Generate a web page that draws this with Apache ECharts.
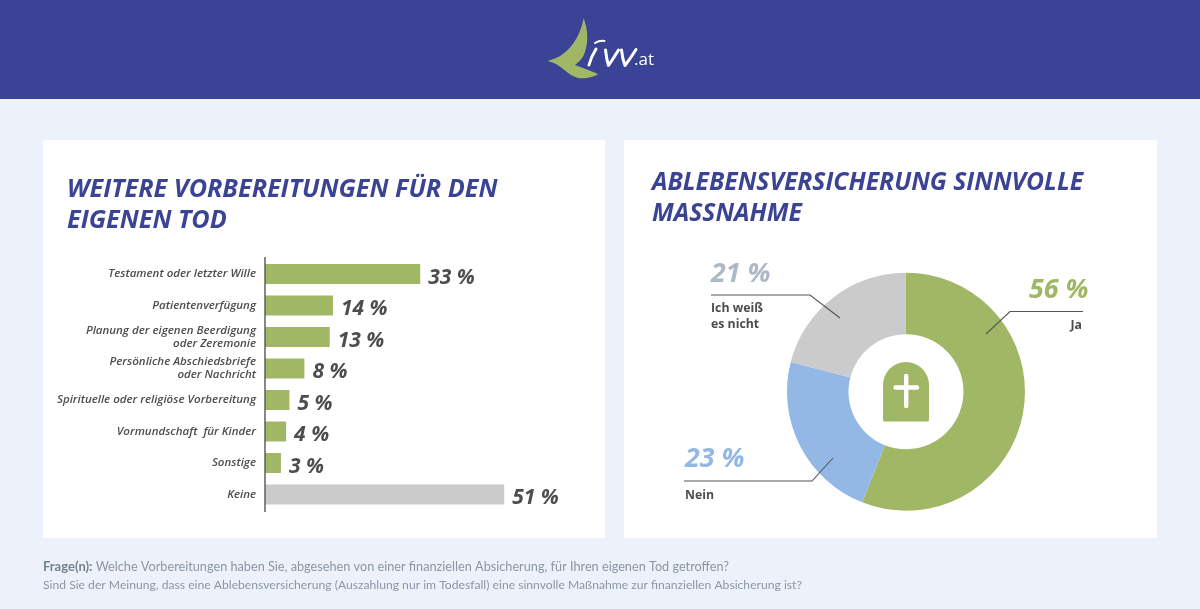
<!DOCTYPE html>
<html><head><meta charset="utf-8">
<style>html,body{margin:0;padding:0;background:#edf2fa}#c{width:1200px;height:609px}</style>
<script src="https://cdn.jsdelivr.net/npm/echarts@6/dist/echarts.min.js"></script></head>
<body><div id="c"></div>
<script>
const barCategories = ['Testament oder letzter Wille','Patientenverfügung','Planung der eigenen Beerdigung\noder Zeremonie','Persönliche Abschiedsbriefe\noder Nachricht','Spirituelle oder religiöse Vorbereitung','Vormundschaft  für Kinder','Sonstige','Keine'];
const barValues = [33.1,14.5,13.8,8.4,5.2,4.5,3.4,51];
const barLabels = ['33 %','14 %','13 %','8 %','5 %','4 %','3 %','51 %'];
const pieNames = ['Ja','Nein','Ich weiß\nes nicht'];
const pieValues = [56,23,21];
const pieColors = ['#a0b866','#93b8e5','#cbcbcb'];
const pieLabelColors = ['#a0b866','#93b8e5','#aeb9c6'];
const titleLeft = 'WEITERE VORBEREITUNGEN FÜR DEN\nEIGENEN TOD';
const titleRight = 'ABLEBENSVERSICHERUNG SINNVOLLE\nMASSNAHME';
const footer1 = 'Welche Vorbereitungen haben Sie, abgesehen von einer finanziellen Absicherung, für Ihren eigenen Tod getroffen?';
const footer2 = 'Sind Sie der Meinung, dass eine Ablebensversicherung (Auszahlung nur im Todesfall) eine sinnvolle Maßnahme zur finanziellen Absicherung ist?';

const FONT = '"Open Sans"';
const FOOT = 'Lato';
const BLUE = '#3b4395';
const DARK = '#4d4d4d';
const pct = v => v + ' %';
const rect = (x,y,w,h,fill,z)=>({type:'rect',z:z||0,silent:true,shape:{x,y,width:w,height:h},style:{fill}});
const line = (pts,z)=>({type:'polyline',z:z||5,silent:true,shape:{points:pts},style:{stroke:'#555',lineWidth:1.1,fill:null}});
const txt = (x,y,text,size,color,opt)=>({type:'text',z:6,silent:true,x,y,style:Object.assign({text,fontFamily:FONT,fontSize:size,fill:color,fontWeight:700,textAlign:'left',textVerticalAlign:'middle'},opt||{})});

const graphics = [
  rect(0,0,1200,99,'#3a4395',-10),
  rect(43,140,562,398,'#fff',-10),
  rect(624,140,533,398,'#fff',-10),
  txt(634,60,'.at',17,'#fff',{fontWeight:400}),
  txt(67,205,titleLeft,25.2,BLUE,{fontStyle:'italic',lineHeight:31}),
  txt(652,198,titleRight,24.7,BLUE,{fontStyle:'italic',lineHeight:31}),
  {type:'line',z:7,silent:true,shape:{x1:265,y1:257,x2:265,y2:512},style:{stroke:'#555',lineWidth:1.4}},
  line([[986,334],[1010,311.5],[1083,311.5]]),
  line([[840,318],[810,295],[711,295]]),
  line([[833,458],[812,481],[684,481]]),
  txt(1029,290,pct(pieValues[0]),26.8,pieLabelColors[0],{fontStyle:'italic'}),
  txt(1082,325,pieNames[0],12.3,DARK,{textAlign:'right'}),
  txt(711,274,pct(pieValues[2]),26.8,pieLabelColors[2],{fontStyle:'italic'}),
  txt(711,316,pieNames[2],12.3,DARK,{lineHeight:16}),
  txt(685,459,pct(pieValues[1]),26.8,pieLabelColors[1],{fontStyle:'italic'}),
  txt(685,495,pieNames[1],12.3,DARK),
  {type:'text',z:6,silent:true,x:43,y:567,style:{text:'{b|Frage(n):} {n|'+footer1+'}',fontFamily:FOOT,fontSize:12.7,fill:'#8a96a6',textVerticalAlign:'middle',rich:{b:{fontWeight:700,fontFamily:FOOT,fontSize:13,fill:'#75828f'},n:{fontFamily:FOOT,fontSize:12.7,fill:'#8a96a6'}}}},
  {type:'text',z:6,silent:true,x:43,y:585,style:{text:footer2,fontFamily:FOOT,fontSize:12.15,fill:'#8a96a6',textVerticalAlign:'middle'}}
];
const iconPaths = [
  ['M583.7 18.3 C588 30 588.5 42 585 52 C583 58 579 62 575 65 C583 68 591 71 598 74 C594 77 586 79 578 78 C571 76 566 71 559 66 C555 63 551 62 547.5 61 C553 59 558 58 563 54 C573 47 581 33 583.7 18.3 Z','#a0b866'],
  ['M883 420 L883 385 A23 23 0 0 1 929 385 L929 420 A1.5 1.5 0 0 1 927.5 421.5 L884.5 421.5 A1.5 1.5 0 0 1 883 420 Z','#a0b866'],
  ['M904 376 A2.2 2.2 0 0 1 908.4 376 L908.4 385.3 L917 385.3 A2.2 2.2 0 0 1 917 389.7 L908.4 389.7 L908.4 406 A2.2 2.2 0 0 1 904 406 L904 389.7 L895.5 389.7 A2.2 2.2 0 0 1 895.5 385.3 L904 385.3 Z','#fff']
];
const logoStrokes = [
  'M596 49 Q591 57 589 65',
  'M595 43 Q600 40 604.5 41',
  'M605.5 50 Q606.5 59 608.5 65.5 Q613 59 618.5 50',
  'M621.5 50 Q622.5 59 625 65.5 Q630 59 636 49.5'
];

const chart = echarts.init(document.getElementById('c'),null,{renderer:'canvas'});
chart.setOption({
  animation:false,
  backgroundColor:'#edf2fa',
  grid:{left:265,top:258.25,width:281.4,height:252,containLabel:false},
  xAxis:{type:'value',min:0,max:60,show:false},
  yAxis:{type:'category',inverse:true,data:barCategories,
    axisLine:{show:false},axisTick:{show:false},
    axisLabel:{margin:9,fontFamily:FONT,fontSize:11.5,fontStyle:'italic',fontWeight:600,color:DARK,lineHeight:13,align:'right'}},
  series:[
    {type:'bar',data:barValues.map((v,i)=>({value:v,itemStyle:{color:i===barValues.length-1?'#cbcbcb':'#a0b866'}})),
     barWidth:20,z:3,
     label:{show:true,position:'right',distance:8,offset:[0,4],formatter:p=>barLabels[p.dataIndex],fontFamily:FONT,fontSize:21,fontWeight:700,fontStyle:'italic',color:DARK}},
    {type:'pie',center:[906,391.7],radius:[57.5,119],startAngle:90,clockwise:true,z:3,
     label:{show:false},labelLine:{show:false},silent:true,
     data:pieNames.map((n,i)=>({name:n,value:pieValues[i],itemStyle:{color:pieColors[i]}}))},
    {type:'custom',coordinateSystem:'none',z:6,silent:true,data:[0],
     renderItem:()=>({type:'group',children:[
       ...iconPaths.map((p,i)=>({type:'path',z2:i,shape:{pathData:p[0]},style:{fill:p[1]}})),
       ...logoStrokes.map((d,i)=>({type:'path',z2:5+i,shape:{pathData:d},style:{fill:null,stroke:'#fff',lineWidth:i===1?2:3,lineCap:'round',lineJoin:'round'}}))
     ]})}
  ],
  graphic:{elements:graphics}
});
</script></body></html>
